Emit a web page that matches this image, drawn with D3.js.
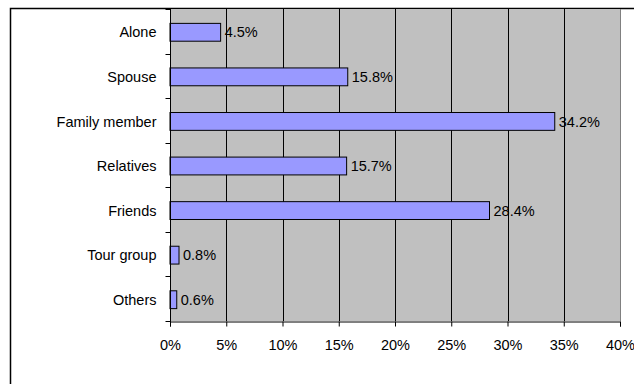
<!DOCTYPE html>
<html><head><meta charset="utf-8">
<script src="https://cdn.jsdelivr.net/npm/d3@7"></script>
<style>body{margin:0;background:#fff}svg{display:block}text{font-family:"Liberation Sans",Arial,sans-serif;font-size:14.5px;fill:#000}</style>
</head><body>
<script>
const categories = ["Alone","Spouse","Family member","Relatives","Friends","Tour group","Others"];
const values = [4.5,15.8,34.2,15.7,28.4,0.8,0.6];
const tickValues = [0,5,10,15,20,25,30,35,40];

const W=634,H=384;
const svg=d3.select("body").append("svg").attr("width",W).attr("height",H);
svg.append("rect").attr("x",10.5).attr("y",8.5).attr("width",W).attr("height",H).attr("fill","#fff").attr("stroke","#000").attr("stroke-width",1.5);

const L=170,R=620,T=9,B=321;
const x=d3.scaleLinear().domain([0,40]).range([L,R]);
const y=d3.scaleBand().domain(categories).range([T,B]);

svg.append("rect").attr("x",L).attr("y",T).attr("width",R-L).attr("height",B-T).attr("fill","#c0c0c0");
svg.append("line").attr("x1",R+0.5).attr("x2",R+0.5).attr("y1",T).attr("y2",B).attr("stroke","#808080");

svg.selectAll("line.grid").data(tickValues.slice(1,-1)).enter().append("line")
 .attr("x1",d=>Math.round(x(d))+0.5).attr("x2",d=>Math.round(x(d))+0.5).attr("y1",T).attr("y2",B).attr("stroke","#000");

const bh=y.bandwidth()*0.4;
svg.selectAll("rect.bar").data(values).enter().append("rect")
 .attr("x",L).attr("y",(d,i)=>y(categories[i])+y.bandwidth()/2-bh/2+1)
 .attr("width",d=>x(d)-L).attr("height",bh).attr("fill","#9999ff").attr("stroke","#000").attr("stroke-width",1);

svg.selectAll("text.val").data(values).enter().append("text")
 .attr("x",d=>x(d)+4).attr("y",(d,i)=>y(categories[i])+y.bandwidth()/2+1).attr("dy","0.35em")
 .text(d=>d.toFixed(1)+"%");

// x axis
const xa=svg.append("g").attr("transform",`translate(0,${B+0.5})`)
 .call(d3.axisBottom(x).tickValues(tickValues).tickFormat(d=>d+"%").tickSize(5).tickPadding(13));
xa.select(".domain").attr("stroke","#000");
xa.selectAll("text").style("font-size","14.5px").style("font-family","Liberation Sans, Arial, sans-serif");

// y axis
const ya=svg.append("g").attr("transform",`translate(${L+0.5},0)`);
ya.append("line").attr("x1",0).attr("x2",0).attr("y1",T).attr("y2",B+5).attr("stroke","#000");
const bounds=d3.range(categories.length+1).map(i=>T+i*y.step());
ya.selectAll("line.tk").data(bounds).enter().append("line").attr("x1",-5).attr("x2",0)
 .attr("y1",d=>Math.round(d)+0.5).attr("y2",d=>Math.round(d)+0.5).attr("stroke","#000");
ya.selectAll("text").data(categories).enter().append("text")
 .attr("x",-14).attr("y",d=>y(d)+y.bandwidth()/2+1).attr("dy","0.35em").attr("text-anchor","end").text(d=>d);
</script>
</body></html>
